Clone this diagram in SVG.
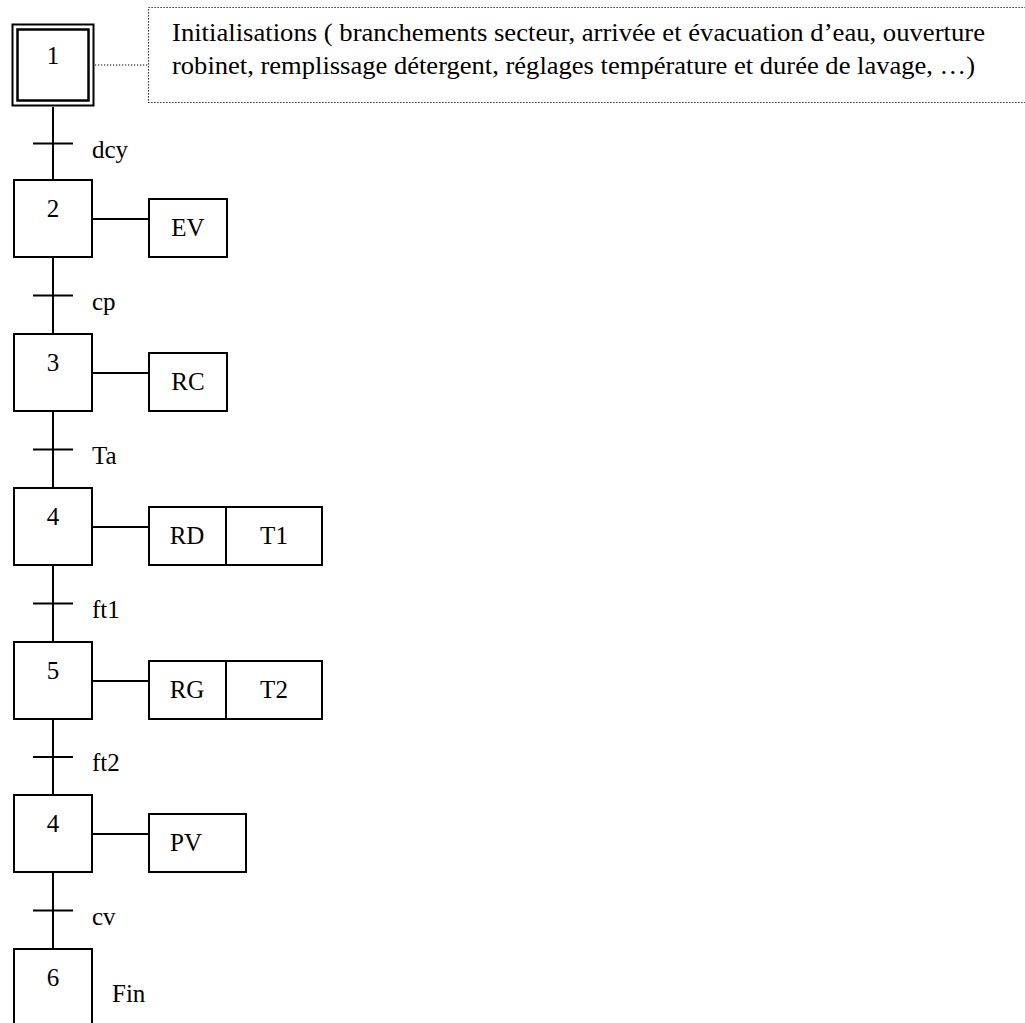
<svg xmlns="http://www.w3.org/2000/svg" width="1025" height="1023" viewBox="0 0 1025 1023">
  <style>
    .box { fill: #fff; stroke: #000; stroke-width: 2; }
    .ln { stroke: #000; stroke-width: 2; fill: none; }
    .dot { stroke: #000; stroke-width: 1.2; stroke-dasharray: 1.2 1.8; fill: none; }
    text { font-family: "Liberation Serif", "Times New Roman", serif; font-size: 25px; fill: #000; }
    .c { text-anchor: middle; }
    .note { font-size: 25px; }
  </style>
  <rect width="1025" height="1023" fill="#fff"/>

  <!-- links between steps and transitions -->
  <g id="connectors">
    <line class="ln" x1="53" y1="107" x2="53" y2="180"/>
    <line class="ln" x1="33" y1="143.5" x2="73" y2="143.5"/>
    <line class="ln" x1="53" y1="257" x2="53" y2="334"/>
    <line class="ln" x1="33" y1="295.5" x2="73" y2="295.5"/>
    <line class="ln" x1="53" y1="411" x2="53" y2="488"/>
    <line class="ln" x1="33" y1="449.5" x2="73" y2="449.5"/>
    <line class="ln" x1="53" y1="565" x2="53" y2="642"/>
    <line class="ln" x1="33" y1="603.5" x2="73" y2="603.5"/>
    <line class="ln" x1="53" y1="719" x2="53" y2="795"/>
    <line class="ln" x1="33" y1="757" x2="73" y2="757"/>
    <line class="ln" x1="53" y1="872" x2="53" y2="949"/>
    <line class="ln" x1="33" y1="910.5" x2="73" y2="910.5"/>
    <!-- step to action links -->
    <line class="ln" x1="92" y1="219" x2="149" y2="219"/>
    <line class="ln" x1="92" y1="373" x2="149" y2="373"/>
    <line class="ln" x1="92" y1="527" x2="149" y2="527"/>
    <line class="ln" x1="92" y1="681" x2="149" y2="681"/>
    <line class="ln" x1="92" y1="834" x2="149" y2="834"/>
    <!-- comment link -->
    <line class="dot" x1="95" y1="65" x2="148" y2="65"/>
  </g>

  <!-- transition conditions -->
  <g id="conditions">
    <text x="92" y="158">dcy</text>
    <text x="92" y="310">cp</text>
    <text x="92" y="464">Ta</text>
    <text x="92" y="618">ft1</text>
    <text x="92" y="771">ft2</text>
    <text x="92" y="925">cv</text>
  </g>

  <!-- initial step -->
  <g id="step1">
    <rect class="box" x="12.5" y="24.5" width="81" height="81" stroke-width="2.5"/>
    <rect x="17.5" y="29.5" width="71" height="71" fill="none" stroke="#000" stroke-width="2.5"/>
    <text class="c" x="53" y="64">1</text>
  </g>

  <g id="comment">
    <rect class="dot" x="148.5" y="7.5" width="880" height="95"/>
    <text class="note" x="172" y="41" textLength="813" lengthAdjust="spacingAndGlyphs">Initialisations ( branchements secteur, arrivée et évacuation d’eau, ouverture</text>
    <text class="note" x="172" y="74" textLength="803" lengthAdjust="spacingAndGlyphs">robinet, remplissage détergent, réglages température et durée de lavage, …)</text>
  </g>

  <g id="step2">
    <rect class="box" x="14" y="180" width="78" height="77"/>
    <text class="c" x="53" y="217">2</text>
  </g>
  <g id="action2">
    <rect class="box" x="149" y="199" width="78" height="58"/>
    <text class="c" x="188" y="236">EV</text>
  </g>

  <g id="step3">
    <rect class="box" x="14" y="334" width="78" height="77"/>
    <text class="c" x="53" y="371">3</text>
  </g>
  <g id="action3">
    <rect class="box" x="149" y="353" width="78" height="58"/>
    <text class="c" x="188" y="390">RC</text>
  </g>

  <g id="step4">
    <rect class="box" x="14" y="488" width="78" height="77"/>
    <text class="c" x="53" y="525">4</text>
  </g>
  <g id="action4">
    <rect class="box" x="149" y="507" width="173" height="58"/>
    <line class="ln" x1="226" y1="507" x2="226" y2="565"/>
    <text class="c" x="187" y="544">RD</text>
    <text class="c" x="274" y="544">T1</text>
  </g>

  <g id="step5">
    <rect class="box" x="14" y="642" width="78" height="77"/>
    <text class="c" x="53" y="679">5</text>
  </g>
  <g id="action5">
    <rect class="box" x="149" y="661" width="173" height="58"/>
    <line class="ln" x1="226" y1="661" x2="226" y2="719"/>
    <text class="c" x="187" y="698">RG</text>
    <text class="c" x="274" y="698">T2</text>
  </g>

  <g id="step6a">
    <rect class="box" x="14" y="795" width="78" height="77"/>
    <text class="c" x="53" y="832">4</text>
  </g>
  <g id="action6a">
    <rect class="box" x="149" y="814" width="97" height="58"/>
    <text class="c" x="186" y="851">PV</text>
  </g>

  <!-- final step, open at the bottom edge -->
  <g id="step6">
    <path class="ln" d="M14 1024 V949 H92 V1024"/>
    <text class="c" x="53" y="986">6</text>
    <text x="112" y="1002">Fin</text>
  </g>
</svg>
